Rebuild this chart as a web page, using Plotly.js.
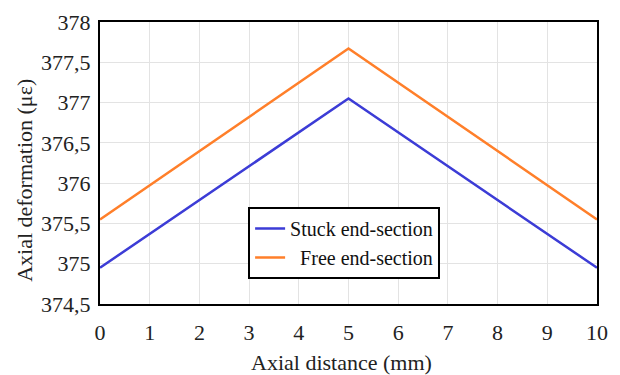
<!DOCTYPE html>
<html>
<head>
<meta charset="utf-8">
<script src="https://cdn.plot.ly/plotly-3.0.1.min.js"></script>
<style>html,body{margin:0;padding:0;background:#fff;}#chart{width:620px;height:375px;}</style>
</head>
<body>
<div id="chart"></div>
<script>
var distance = [0, 5, 10];
var stuckEnd = [374.95, 377.05, 374.95];
var freeEnd = [375.55, 377.67, 375.55];
var xTicks = [0, 1, 2, 3, 4, 5, 6, 7, 8, 9, 10];
var yTicks = [374.5, 375, 375.5, 376, 376.5, 377, 377.5, 378];
var yTickText = ["374,5", "375", "375,5", "376", "376,5", "377", "377,5", "378"];

var font = "Liberation Serif";
var traces = [
  {x: distance, y: stuckEnd, mode: "lines", name: "Stuck end-section",
   line: {color: "#3c3cd6", width: 2.5}},
  {x: distance, y: freeEnd, mode: "lines", name: "&nbsp;&nbsp;Free end-section",
   line: {color: "#ff7f2a", width: 2.5}}
];
var layout = {
  width: 620, height: 375,
  margin: {l: 100, r: 23, t: 22, b: 71},
  paper_bgcolor: "#fff", plot_bgcolor: "#fff",
  font: {family: font, size: 21, color: "#222"},
  showlegend: true,
  legend: {x: 0.298, y: 0.344, xanchor: "left", yanchor: "top",
    bordercolor: "#000", borderwidth: 2, bgcolor: "#fff",
    font: {family: font, size: 20, color: "#111"},
    tracegroupgap: 0, itemwidth: 30},
  xaxis: {range: [0, 10], tickvals: xTicks, ticktext: xTicks.map(String),
    showgrid: true, gridcolor: "#e3e3e3", gridwidth: 1,
    showline: true, linecolor: "#000", linewidth: 2, mirror: true,
    ticks: "", zeroline: false, ticklabelstandoff: 8,
    tickfont: {family: font, size: 22, color: "#222"}},
  yaxis: {range: [374.5, 378], tickvals: yTicks, ticktext: yTickText,
    showgrid: true, gridcolor: "#e3e3e3", gridwidth: 1,
    showline: true, linecolor: "#000", linewidth: 2, mirror: true,
    ticks: "", zeroline: false, ticklabelstandoff: 3,
    tickfont: {family: font, size: 22, color: "#222"}},
  annotations: [
    {text: "Axial distance (mm)", xref: "paper", yref: "paper", x: 0.485, y: -0.206,
     xanchor: "center", yanchor: "middle", showarrow: false,
     font: {family: font, size: 22, color: "#222"}},
    {text: "Axial deformation (με)", xref: "paper", yref: "paper", x: -0.151, y: 0.44,
     xanchor: "center", yanchor: "middle", showarrow: false, textangle: -90,
     font: {family: font, size: 22, color: "#222"}}
  ]
};
Plotly.newPlot("chart", traces, layout, {staticPlot: true, displayModeBar: false});
</script>
</body>
</html>
